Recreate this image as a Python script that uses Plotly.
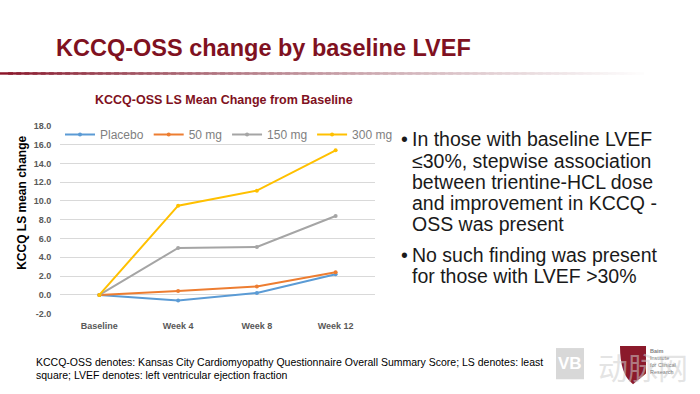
import plotly.graph_objects as go

categories = ["Baseline", "Week 4", "Week 8", "Week 12"]
placebo = [0.0, -0.6, 0.2, 2.2]
mg50 = [0.0, 0.4, 0.9, 2.4]
mg150 = [0.0, 5.0, 5.1, 8.4]
mg300 = [0.0, 9.5, 11.1, 15.4]
series_names = ["Placebo", "50 mg", "150 mg", "300 mg"]
series_colors = ["#5B9BD5", "#ED7D31", "#A5A5A5", "#FFC000"]
y_ticks = [-2, 0, 2, 4, 6, 8, 10, 12, 14, 16, 18]

W, H = 700, 394
def px(x):
    return x / W
def py(y):
    return 1 - y / H

fig = go.Figure()
for name, vals, col in zip(series_names, [placebo, mg50, mg150, mg300], series_colors):
    fig.add_trace(go.Scatter(
        x=categories, y=vals, name=name, mode="lines+markers",
        line=dict(color=col, width=2), marker=dict(color=col, size=4),
    ))

FONT = "Arial, Liberation Sans, sans-serif"
fig.update_layout(
    width=W, height=H, margin=dict(l=0, r=0, t=0, b=0),
    paper_bgcolor="white", plot_bgcolor="white",
    showlegend=True,
    legend=dict(orientation="h", x=px(60), y=py(118), xanchor="left", yanchor="top",
                font=dict(family=FONT, size=12, color="#7F7F7F"),
                bgcolor="rgba(0,0,0,0)", itemwidth=30, tracegroupgap=0),
    xaxis=dict(domain=[px(60), px(375)], range=[-0.5, 3.5], type="category",
               showgrid=False, zeroline=False, showline=False,
               tickfont=dict(family=FONT, size=9, color="#595959"),
               ticks="outside", ticklen=4, tickcolor="rgba(0,0,0,0)"),
    yaxis=dict(domain=[py(316.7), py(124)], range=[-2, 18], tickvals=y_ticks,
               tickformat=".1f", showgrid=True, gridcolor="#D9D9D9", gridwidth=1,
               zeroline=False, showline=False,
               tickfont=dict(family=FONT, size=9, color="#595959"),
               ticks="outside", ticklen=6, tickcolor="rgba(0,0,0,0)"),
)
fig.update_xaxes(ticktext=["<b>%s</b>" % c for c in categories], tickvals=categories)
fig.update_yaxes(ticktext=["<b>%.1f</b>" % v for v in y_ticks])

ann = []
ann.append(dict(text="<b>KCCQ-OSS change by baseline LVEF</b>", x=px(54), y=py(44),
                xref="paper", yref="paper", xanchor="left", yanchor="middle", showarrow=False,
                font=dict(family=FONT, size=23.5, color="#7F1121")))
ann.append(dict(text="<b>KCCQ-OSS LS Mean Change from Baseline</b>", x=px(224), y=py(97),
                xref="paper", yref="paper", xanchor="center", yanchor="middle", showarrow=False,
                font=dict(family=FONT, size=12.5, color="#7F1121")))
ann.append(dict(text="<b>KCCQ LS mean change</b>", x=px(22), y=py(203), textangle=-90,
                xref="paper", yref="paper", xanchor="center", yanchor="middle", showarrow=False,
                font=dict(family=FONT, size=12, color="black")))
lines = [("•", "In those with baseline LVEF", 138), ("", "≤30%, stepwise association", 160),
         ("", "between trientine-HCL dose", 182), ("", "and improvement in KCCQ -", 203),
         ("", "OSS was present", 225), ("•", "No such finding was present", 257),
         ("", "for those with LVEF >30%", 278)]
for b, t, y in lines:
    if b:
        ann.append(dict(text=b, x=px(399), y=py(y), xref="paper", yref="paper",
                        xanchor="left", yanchor="middle", showarrow=False,
                        font=dict(family=FONT, size=19.5, color="#1A1A1A")))
    ann.append(dict(text=t, x=px(410), y=py(y), xref="paper", yref="paper",
                    xanchor="left", yanchor="middle", showarrow=False,
                    font=dict(family=FONT, size=19.5, color="#1A1A1A")))
ann.append(dict(text="KCCQ-OSS denotes: Kansas City Cardiomyopathy Questionnaire Overall Summary Score; LS denotes: least",
                x=px(34), y=py(366), xref="paper", yref="paper", xanchor="left", yanchor="middle",
                showarrow=False, font=dict(family=FONT, size=10.5, color="black")))
ann.append(dict(text="square; LVEF denotes: left ventricular ejection fraction",
                x=px(34), y=py(380), xref="paper", yref="paper", xanchor="left", yanchor="middle",
                showarrow=False, font=dict(family=FONT, size=10.5, color="black")))
ann.append(dict(text="<b>VB</b>", x=px(570), y=py(368), xref="paper", yref="paper",
                xanchor="center", yanchor="middle", showarrow=False,
                font=dict(family=FONT, size=17, color="white")))
ann.append(dict(text="动脉网", x=px(596), y=py(370), xref="paper", yref="paper",
                xanchor="left", yanchor="middle", showarrow=False,
                font=dict(family="Noto Sans CJK SC", size=30, color="rgba(205,205,205,0.55)")))
ann.append(dict(text="<b>Baim</b><br>Institute<br>for Clinical<br>Research", x=px(648), y=py(366),
                xref="paper", yref="paper", xanchor="left", yanchor="middle", showarrow=False,
                align="left", font=dict(family=FONT, size=5.5, color="#7F7F7F")))
fig.update_layout(annotations=ann)

shapes = []
n = 80
x0, x1 = 0, 652
for i in range(n):
    t = i / (n - 1)
    r = int(139 + (255 - 139) * t)
    g = int(20 + (255 - 20) * t ** 0.8)
    bl = int(40 + (255 - 40) * t ** 0.8)
    shapes.append(dict(type="rect", xref="paper", yref="paper",
                       x0=px(x0 + (x1 - x0) * i / n), x1=px(x0 + (x1 - x0) * (i + 1.6) / n),
                       y0=py(71.5), y1=py(69), line=dict(width=0),
                       fillcolor="rgb(%d,%d,%d)" % (r, g, bl)))
shapes.append(dict(type="rect", xref="paper", yref="paper", x0=px(556), x1=px(584),
                   y0=py(384), y1=py(352), line=dict(width=0), fillcolor="rgba(200,200,200,0.7)"))
shapes.append(dict(type="path", xref="paper", yref="paper",
                   path="M %f %f L %f %f L %f %f L %f %f Q %f %f %f %f Z" % (
                       px(620), py(350), px(646), py(350), px(646), py(378), px(633), py(389),
                       px(620), py(380), px(620), py(350)),
                   line=dict(width=0), fillcolor="#8B1A2B"))
fig.update_layout(shapes=shapes)

fig.write_html("out.html", config={"displayModeBar": False},
               post_script="document.body.style.margin='0';document.body.style.overflow='hidden';")
